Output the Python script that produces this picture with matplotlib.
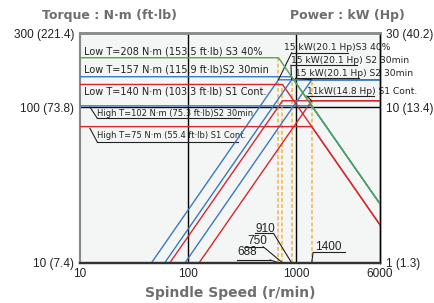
import numpy as np
import matplotlib
matplotlib.use('Agg')
import matplotlib.pyplot as plt
from matplotlib.ticker import NullLocator

plt.rcParams['font.family'] = ['Liberation Sans Narrow', 'DejaVu Sans']

# torque curves (N.m): speed breakpoints and values
torque_speeds = [[10, 688, 6000], [10, 910, 6000], [10, 750, 6000],
                 [10, 1400, 6000], [10, 1400, 6000]]
torque_vals = [[208, 208, 23.9], [157, 157, 23.9], [140, 140, 17.5],
               [102, 102, 23.9], [75, 75, 17.5]]
torque_colors = ['#4ea84a', '#3a78c2', '#d8262e', '#3a78c2', '#d8262e']
torque_z = [5, 3, 4, 3, 4]

# power curves (kW)
power_speeds = [[46, 688, 6000], [61, 910, 6000], [68, 750, 6000],
                [94, 1400, 6000], [127, 1400, 6000]]
power_vals = [[1, 15, 15], [1, 15, 15], [1, 11, 11], [1, 15, 15], [1, 11, 11]]
power_colors = ['#3a78c2', '#3a78c2', '#d8262e', '#3a78c2', '#d8262e']

base_speeds = [688, 750, 910, 1400]
base_tops = [208, 140, 157, 150]

torque_labels = ['Low T=208 N·m (153.5 ft·lb) S3 40%',
                 'Low T=157 N·m (115.9 ft·lb)S2 30min',
                 'Low T=140 N·m (103.3 ft·lb) S1 Cont.',
                 'High T=102 N·m (75.3 ft·lb)S2 30min',
                 'High T=75 N·m (55.4 ft·lb) S1 Cont.']
power_labels = ['15 kW(20.1 Hp)S3 40%', '15 kW(20.1 Hp) S2 30min',
                '15 kW(20.1 Hp) S2 30min', '11kW(14.8 Hp) S1 Cont.']

fig = plt.figure(figsize=(4.35, 3.03), dpi=100)
ax = fig.add_axes([80/435, 40.3/303, 300/435, 229.7/303])
ax.set_facecolor('#f4f6f6')
ax.set_xscale('log')
ax.set_yscale('log')
ax.set_xlim(10, 6000)
ax.set_ylim(10, 300)

ax2 = ax.twinx()
ax2.set_yscale('log')
ax2.set_ylim(1, 30)

# grid lines
ax.axvline(100, color='black', lw=1)
ax.axvline(1000, color='black', lw=1)
ax.axhline(100, color='black', lw=1)

for n, t in zip(base_speeds, base_tops):
    ax.plot([n, n], [10, t], color='#f2b443', lw=1.1, ls=(0, (2.5, 1.5)))

for s, v, c in zip(power_speeds, power_vals, power_colors):
    ax2.plot(s, v, color=c, lw=1, zorder=2)
for s, v, c, z in zip(torque_speeds, torque_vals, torque_colors, torque_z):
    ax2.plot(s, [t / 10 for t in v], color=c, lw=1, zorder=z)

# labels for torque lines
tk = dict(fontsize=7, va='center', ha='left', transform=ax.transAxes, color='#222')
ax.text(0.013, 0.921, torque_labels[0], **tk)
ax.text(0.013, 0.840, torque_labels[1], **tk)
ax.text(0.013, 0.746, torque_labels[2], **tk)
tk['fontsize'] = 6
ax.text(0.057, 0.650, torque_labels[3], **tk)
ax.text(0.057, 0.552, torque_labels[4], **tk)
ax.plot([0.057, 0.533], [0.630, 0.630], color='#222', lw=0.8, transform=ax.transAxes)
ax.plot([0.033, 0.057], [0.678, 0.630], color='#222', lw=0.8, transform=ax.transAxes)
ax.plot([0.057, 0.527], [0.527, 0.527], color='#222', lw=0.8, transform=ax.transAxes)
ax.plot([0.033, 0.057], [0.585, 0.527], color='#222', lw=0.8, transform=ax.transAxes)

# labels for power lines
pk = dict(fontsize=6.6, va='center', ha='left', transform=ax.transAxes, color='#222')
pl_pos = [(0.680, 0.937), (0.703, 0.880), (0.717, 0.823), (0.756, 0.745)]
ul = [(0.706, 0.895, 0.915), (0.703, 0.923, 0.860), (0.717, 0.93, 0.803), (0.756, 0.98, 0.726)]
targets = [(688, 15), (910, 15), (1400, 15), (1400, 11)]
for lab, (x, y), (u0, u1, uy), tg in zip(power_labels, pl_pos, ul, targets):
    ax.text(x, y, lab, **pk)
    ax.plot([u0, u1], [uy, uy], color='#222', lw=0.8, transform=ax.transAxes, clip_on=False)
    ax2.annotate('', xy=tg, xytext=(u0, uy), textcoords='axes fraction',
                 arrowprops=dict(arrowstyle='-', lw=0.8, color='#222', shrinkA=0, shrinkB=0))

# base speed labels
sp_labels = ['688', '750', '910', '1400']
sp_pos = [(0.557, 0.047), (0.590, 0.095), (0.617, 0.148), (0.827, 0.067)]
sp_ul = [(0.523, 0.633, 0.012), (0.550, 0.610, 0.070), (0.583, 0.645, 0.128), (0.777, 0.883, 0.045)]
for lab, n, (x, y), (u0, u1, uy) in zip(sp_labels, base_speeds, sp_pos, sp_ul):
    ax.text(x, y, lab, fontsize=8.5, ha='center', va='center', transform=ax.transAxes,
            color='#222', family=['Liberation Sans', 'DejaVu Sans'])
    ax.plot([u0, u1], [uy, uy], color='#222', lw=0.8, transform=ax.transAxes)
    start = u0 if lab == '1400' else u1
    ax.annotate('', xy=(n, 10), xytext=(start, uy), textcoords='axes fraction',
                arrowprops=dict(arrowstyle='-', lw=0.8, color='#222', shrinkA=0, shrinkB=0))

# ticks
tf = ['Liberation Sans', 'DejaVu Sans']
ax.set_xticks([10, 100, 1000, 6000])
ax.set_xticklabels(['10', '100', '1000', '6000'], fontsize=8.5, family=tf, color='#222')
ax.set_yticks([10, 100, 300])
ax.set_yticklabels(['10 (7.4)', '100 (73.8)', '300 (221.4)'], fontsize=8.5, family=tf, color='#222')
ax2.set_yticks([1, 10, 30])
ax2.set_yticklabels(['1 (1.3)', '10 (13.4)', '30 (40.2)'], fontsize=8.5, family=tf, color='#222')
for a in (ax, ax2):
    a.xaxis.set_minor_locator(NullLocator())
    a.yaxis.set_minor_locator(NullLocator())
    a.tick_params(length=0, pad=4)

for a in (ax, ax2):
    a.spines['top'].set_color('#8a8a8a')
    a.spines['top'].set_linewidth(1.8)
    a.spines['left'].set_color('#8a8a8a')
    a.spines['left'].set_linewidth(1.5)
    a.spines['bottom'].set_color('#333')
    a.spines['bottom'].set_linewidth(1.6)
    a.spines['right'].set_color('black')
    a.spines['right'].set_linewidth(1)

fig.text(110/435, 1 - 16/303, 'Torque : N·m (ft·lb)', fontsize=9, weight='bold',
         color='#6e6e6e', ha='center', va='center')
fig.text(347/435, 1 - 16/303, 'Power : kW (Hp)', fontsize=9, weight='bold',
         color='#6e6e6e', ha='center', va='center')
fig.text(230/435, 1 - 293/303, 'Spindle Speed (r/min)', fontsize=10, weight='bold',
         color='#6e6e6e', ha='center', va='center')

fig.savefig('out.png', dpi=100)
